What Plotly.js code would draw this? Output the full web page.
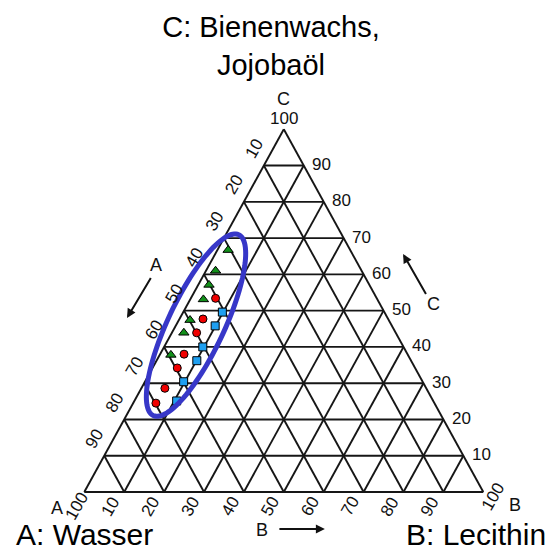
<!DOCTYPE html>
<html>
<head>
<meta charset="utf-8">
<script src="https://cdn.plot.ly/plotly-3.0.1.min.js"></script>
<style>
  html, body { margin: 0; padding: 0; background: #ffffff; }
  #chart { width: 550px; height: 552px; }
</style>
</head>
<body>
<div id="chart"></div>
<script>
// Mixtures in percent. A = Wasser, B = Lecithin, C = Bienenwachs/Jojobaöl
const triangleA = [30.6, 36.6, 40.2, 43.6, 49.8, 53.1, 59.4];
const triangleB = [2.7, 2.4, 2.7, 3.3, 2.8, 3.0, 2.8];
const triangleC = [66.7, 61.0, 57.1, 53.1, 47.4, 43.9, 37.8];

const circleA = [40.4, 46.4, 49.9, 56.0, 59.6, 65.5, 69.8];
const circleB = [6.2, 5.9, 6.2, 6.0, 6.2, 5.9, 5.7];
const circleC = [53.4, 47.7, 43.9, 38.0, 34.2, 28.6, 24.5];

const squareA = [40.6, 44.3, 50.3, 53.7, 59.9, 64.3];
const squareB = [9.8, 9.9, 9.7, 10.1, 9.7, 10.6];
const squareC = [49.6, 45.8, 40.0, 36.2, 30.4, 25.1];

// grid every 10 %, edge labels 10 ... 100
const gridSteps = [10, 20, 30, 40, 50, 60, 70, 80, 90];
const edgeTicks = [10, 20, 30, 40, 50, 60, 70, 80, 90, 100];

// highlighted region (centre composition)
const regionCentre = { A: 49, B: 5, C: 46 };

// figure geometry: pixel columns of the A and B corners, pixel rows of base and apex
const W = 550, H = 552;
const X0 = 84.3, X1 = 483.3, Y0 = 492, Y1 = 129.3;
const xRange = [-X0 / (X1 - X0) * 100, (W - X0) / (X1 - X0) * 100];
const yRange = [-(H - Y0) / (Y0 - Y1) * 100, Y0 / (Y0 - Y1) * 100];
const paperX = p => p / W;
const paperY = p => 1 - p / H;

// composition -> plane (A bottom-left, B bottom-right, C top)
function px(A, B, C) { return B + C / 2; }
function py(A, B, C) { return C; }

// --- grid -------------------------------------------------------------
const gx = [], gy = [];
function seg(p, q) {
  gx.push(px(...p), px(...q), null);
  gy.push(py(...p), py(...q), null);
}
gridSteps.forEach(v => {
  seg([100 - v, 0, v], [0, 100 - v, v]);   // constant C
  seg([100 - v, v, 0], [0, v, 100 - v]);   // constant B
  seg([v, 100 - v, 0], [v, 0, 100 - v]);   // constant A
});
seg([100, 0, 0], [0, 100, 0]);
seg([0, 100, 0], [0, 0, 100]);
seg([0, 0, 100], [100, 0, 0]);

const lineCol = '#161616';
const numFont = { family: 'Liberation Sans, Arial, sans-serif', size: 17, color: '#111' };
const letterFont = { family: 'Liberation Sans, Arial, sans-serif', size: 18, color: '#111' };
const titleFont = { family: 'Liberation Sans, Arial, sans-serif', size: 29, color: '#000' };
const cornerFont = { family: 'Liberation Sans, Arial, sans-serif', size: 30, color: '#000' };

function markerTrace(A, B, C, symbol, color, size, name) {
  return {
    type: 'scatter', mode: 'markers', name: name, cliponaxis: false,
    x: A.map((a, i) => px(a, B[i], C[i])),
    y: A.map((a, i) => py(a, B[i], C[i])),
    marker: { symbol: symbol, color: color, size: size, line: { color: '#000', width: 1 } },
    hoverinfo: 'skip'
  };
}

const traces = [
  { type: 'scatter', mode: 'lines', x: gx, y: gy, cliponaxis: false,
    line: { color: lineCol, width: 1.9 }, hoverinfo: 'skip' },
  markerTrace(triangleA, triangleB, triangleC, 'triangle-up', '#12901a', 9, 'triangle'),
  markerTrace(circleA, circleB, circleC, 'circle', '#f00000', 8, 'circle'),
  markerTrace(squareA, squareB, squareC, 'square', '#1e9ff0', 8, 'square')
];

// --- edge labels ------------------------------------------------------
const ann = [];
function label(A, B, C, text, dx, dy, angle, font) {
  ann.push({ xref: 'x', yref: 'y', x: px(A, B, C), y: py(A, B, C), text: text,
    showarrow: false, xshift: dx, yshift: dy, textangle: angle, font: font || numFont });
}
edgeTicks.forEach(v => {
  // A along the left edge
  if (v < 100) label(v, 0, 100 - v, String(v), -9.5, 17, -60);
  else label(100, 0, 0, '100', -7.6, -14.7, -60);
  // B along the bottom edge
  if (v < 100) label(100 - v, v, 0, String(v), -13.6, -14.5, -60);
  else label(0, 100, 0, '100', 10, -4.7, -60);
  // C along the right edge
  if (v < 100) label(0, 100 - v, v, String(v), 18, 1, 0);
  else label(0, 0, 100, '100', 0, 11, 0);
});
label(0, 0, 100, 'C', 0, 30, 0, letterFont);
label(100, 0, 0, 'A', -27.6, -16.3, 0, letterFont);
label(0, 100, 0, 'B', 31.7, -13, 0, letterFont);

// direction arrows: head at the given composition, tail offset in pixels,
// letter placed just beyond the tail
function arrow(A, B, C, text, ax, ay, tx, ty) {
  ann.push({ xref: 'x', yref: 'y', x: px(A, B, C), y: py(A, B, C), text: ' ',
    font: { size: 1 }, showarrow: true, ax: ax, ay: ay, arrowhead: 2, arrowsize: 0.9,
    arrowwidth: 2, arrowcolor: '#111' });
  label(A, B, C, text, tx, ty, 0, letterFont);
}
arrow(65.3, -13.3, 48.0, 'A', 25, -42, 29, 53);
arrow(-12.7, 47.1, 65.6, 'C', 24, 42, 30, -50);
arrow(44.8, 65.4, -10.2, 'B', -47, 0, -63, -1);

// component names
ann.push({ xref: 'paper', yref: 'paper', x: paperX(14), y: paperY(534), xanchor: 'left',
  yanchor: 'middle', text: 'A: Wasser', showarrow: false, font: cornerFont });
ann.push({ xref: 'paper', yref: 'paper', x: paperX(548), y: paperY(534), xanchor: 'right',
  yanchor: 'middle', text: 'B: Lecithin', showarrow: false, font: cornerFont });

// --- highlight ellipse (pixel path around the centre composition) ------
function ellipsePath(rx, ry, deg, n) {
  const t0 = deg * Math.PI / 180;
  let d = '';
  for (let i = 0; i <= n; i++) {
    const t = 2 * Math.PI * i / n;
    const ex = rx * Math.cos(t) * Math.cos(t0) - ry * Math.sin(t) * Math.sin(t0);
    const ey = rx * Math.cos(t) * Math.sin(t0) + ry * Math.sin(t) * Math.cos(t0);
    d += (i ? 'L' : 'M') + ex.toFixed(2) + ',' + ey.toFixed(2);
  }
  return d + 'Z';
}

const layout = {
  width: W, height: H,
  margin: { l: 0, r: 0, t: 0, b: 0, pad: 0 },
  paper_bgcolor: '#ffffff', plot_bgcolor: 'rgba(0,0,0,0)',
  showlegend: false,
  title: { text: 'C: Bienenwachs,<br>Jojobaöl', font: titleFont,
    x: 271 / W, xref: 'container', xanchor: 'center',
    y: 0.9325, yref: 'container', yanchor: 'top' },
  xaxis: { range: xRange, visible: false, fixedrange: true },
  yaxis: { range: yRange, visible: false, fixedrange: true },
  annotations: ann,
  shapes: [{
    type: 'path', xref: 'x', yref: 'y',
    xsizemode: 'pixel', ysizemode: 'pixel',
    xanchor: px(regionCentre.A, regionCentre.B, regionCentre.C),
    yanchor: py(regionCentre.A, regionCentre.B, regionCentre.C),
    path: ellipsePath(100, 28, 64.7, 120),
    line: { color: '#3737c8', width: 5 }
  }]
};

Plotly.newPlot('chart', traces, layout, { staticPlot: true, displayModeBar: false });
</script>
</body>
</html>
